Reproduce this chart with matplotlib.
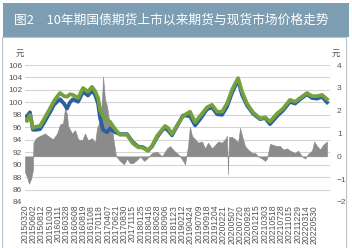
import numpy as np
import matplotlib; matplotlib.use("Agg")
import matplotlib.pyplot as plt
from matplotlib.patches import Rectangle

plt.rcParams.update({"font.family": ["Liberation Sans", "DejaVu Sans"], "font.size": 6})
CJK = ["Noto Sans CJK SC", "DejaVu Sans"]
GREEN = "#74a13e"; BLUE = "#2b5f9e"; GRAYFILL = "#8b8b8b"; TXT = "#555555"
BAR = "#7d9db3"

TITLE = "图2　10年期国债期货上市以来期货与现货市场价格走势"

# x tick labels (one every 50 trading days)
date_labels = ["20150320", "20150602", "20150812", "20151030", "20160111", "20160328",
               "20160608", "20160819", "20161108", "20170118", "20170407", "20170621",
               "20170830", "20171115", "20180125", "20180416", "20180628", "20180906",
               "20181123", "20190212", "20190424", "20190709", "20190918", "20191204",
               "20200221", "20200507", "20200720", "20200928", "20201215", "20210303",
               "20210518", "20210728", "20211015", "20211229", "20220314", "20220530"]

# price series (trading-day index, yuan)
price_day = [0, 12, 30, 48, 67, 91, 121, 151, 175, 194, 212, 236, 254, 272, 290, 321,
             351, 381, 405, 424, 442, 454, 472, 496, 514, 545, 575, 617, 653, 684, 714,
             744, 768, 799, 829, 847, 865, 889, 920, 956, 998, 1029, 1059, 1101, 1131,
             1162, 1192, 1222, 1252, 1271, 1289, 1313, 1343, 1379, 1422, 1452, 1482,
             1525, 1561, 1603, 1634, 1664, 1706, 1736, 1767, 1797, 1827]
spot = [97.3, 97.0, 98.0, 95.9, 96.1, 96.2, 97.6, 99.0, 100.2, 100.9, 101.5, 101.0,
        100.9, 101.3, 101.2, 100.7, 102.3, 101.7, 102.5, 101.8, 100.7, 98.8, 97.8, 97.2,
        96.9, 95.7, 94.8, 94.8, 93.4, 92.8, 92.7, 92.2, 93.0, 94.6, 95.6, 96.2, 95.9,
        94.9, 96.3, 97.8, 98.5, 96.8, 97.8, 99.2, 99.6, 98.5, 98.5, 99.8, 102.0, 103.0,
        103.9, 101.7, 99.8, 98.4, 97.4, 97.6, 96.9, 98.2, 99.0, 100.4, 100.1, 100.7,
        101.5, 101.0, 101.0, 101.2, 100.5]
futures = [97.6, 97.8, 98.4, 95.6, 95.6, 95.7, 97.0, 98.4, 99.6, 100.1, 100.5, 99.8,
           99.0, 100.0, 100.5, 100.1, 101.7, 101.1, 101.9, 101.2, 99.8, 97.5, 95.6, 95.2,
           95.8, 95.2, 94.9, 94.9, 93.6, 92.9, 92.8, 92.3, 92.9, 94.4, 95.5, 95.9, 95.5,
           94.7, 96.2, 97.9, 97.8, 96.3, 97.3, 98.9, 99.2, 98.1, 98.0, 99.3, 101.5, 102.6,
           103.5, 101.2, 99.5, 98.2, 97.3, 97.5, 96.5, 97.8, 98.7, 100.1, 99.8, 100.5,
           101.3, 100.7, 100.6, 100.9, 100.0]

# basis (right axis, yuan)
basis_day = [0, 12, 24, 36, 45, 48, 51, 67, 91, 121, 139, 169, 194, 212, 230, 242, 254,
             260, 284, 303, 321, 345, 363, 381, 405, 424, 436, 454, 466, 472, 484, 496,
             508, 526, 538, 551, 575, 599, 617, 635, 653, 678, 696, 720, 738, 768, 799,
             829, 859, 877, 908, 926, 938, 956, 968, 986, 998, 1010, 1029, 1047, 1071,
             1089, 1107, 1131, 1150, 1168, 1192, 1210, 1222, 1228, 1234, 1252, 1271, 1289,
             1301, 1313, 1331, 1349, 1373, 1392, 1410, 1434, 1452, 1464, 1482, 1501, 1525,
             1543, 1561, 1585, 1603, 1634, 1652, 1676, 1694, 1712, 1736, 1749, 1767, 1785,
             1803, 1827]
basis = [-0.7, -0.9, -1.2, -1.0, -0.7, -0.6, 0.6, 0.8, 0.9, 1.0, 0.9, 0.75, 1.0, 1.4,
         1.45, 2.1, 1.85, 1.35, 1.0, 1.15, 0.75, 0.7, 1.0, 0.7, 0.8, 0.6, 1.25, 1.55, 2.5,
         3.5, 2.5, 2.2, 1.6, 1.2, 0.6, 0.0, -0.2, -0.35, -0.1, -0.3, -0.3, -0.15, 0.0,
         -0.2, -0.1, 0.15, 0.2, 0.0, 0.35, 0.45, 0.2, 0.1, 0.0, -0.2, -0.35, 0.45, 1.3,
         0.9, 0.75, 0.6, 0.65, 0.35, 0.6, 0.35, 0.5, 0.65, 0.6, 0.75, 0.9, -0.8, 0.85,
         0.85, 0.75, 0.6, 1.25, 0.9, 0.45, 0.3, 0.15, 0.15, 0.0, -0.1, -0.2, -0.1, 0.55,
         0.5, 0.45, 0.45, 0.3, 0.35, 0.25, 0.15, 0.25, 0.0, -0.1, 0.1, 0.25, 0.65, 0.45,
         0.3, 0.5, 0.65]

fig = plt.figure(figsize=(3.52, 2.48), dpi=100)
W, H = 352, 248

# title bar + outer frame
fig.add_artist(Rectangle((3/W, 1-37/H), 346/W, 34/H, transform=fig.transFigure,
                         facecolor=BAR, edgecolor="none"))
fig.add_artist(Rectangle((2/W, -0.01), 344/W, 1-37/H+0.01, transform=fig.transFigure,
                         facecolor="none", edgecolor="#b7c2cb", lw=0.8))
fig.text(14/W, 1-20/H, TITLE, family=CJK, fontsize=9.2, color="white",
         ha="left", va="center")

pos = [25/W, 1-202/H, 305/W, 137/H]
axg = fig.add_axes(pos)
axg.set_ylim(84, 106); axg.set_xlim(0, 1845)
axg.set_yticks(np.arange(84, 107, 2))
axg.grid(axis="y", color="#d4d4d4", lw=0.8)
axg.set_axisbelow(True)
for s in axg.spines.values(): s.set_visible(False)
axg.tick_params(axis="y", length=0, pad=2, labelcolor=TXT, labelsize=6)
axg.set_xticks(np.arange(len(date_labels)) * 50)
axg.set_xticklabels(date_labels, rotation=90, fontsize=6.2, color=TXT)
axg.tick_params(axis="x", length=0, pad=2)

axb = axg.twinx()
axb.set_ylim(-2, 4)
axb.set_yticks(range(-2, 5))
axb.fill_between(basis_day, 0, basis, color=GRAYFILL, lw=0.4, edgecolor=GRAYFILL)
for s in axb.spines.values(): s.set_visible(False)
axb.tick_params(axis="y", length=0, pad=5, labelcolor=TXT, labelsize=6)

axl = fig.add_axes(pos, sharex=axg, sharey=axg)
axl.patch.set_visible(False)
axl.axis("off")
axl.plot(price_day, futures, color=BLUE, lw=2.7, solid_joinstyle="round")
axl.plot(price_day, spot, color=GREEN, lw=2.7, solid_joinstyle="round")

axg.set_zorder(0); axb.set_zorder(1); axl.set_zorder(2)

fig.text(20/W, 1-53/H, "元", family=CJK, fontsize=6, color=TXT, ha="center", va="center")
fig.text(336/W, 1-53/H, "元", family=CJK, fontsize=6, color=TXT, ha="center", va="center")

fig.savefig("out.png", dpi=100)
